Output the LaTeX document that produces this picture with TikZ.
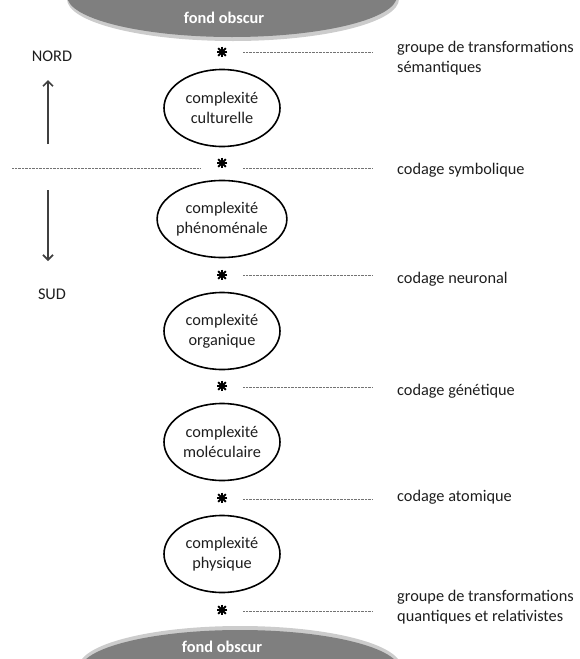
\documentclass[tikz,border=0pt]{standalone}
\usepackage{fontspec}
\setmainfont{Carlito}
\usetikzlibrary{arrows.meta,shapes.geometric}
\definecolor{bandgray}{HTML}{7F7F7F}
\definecolor{inkgray}{HTML}{1E1E1E}
\begin{document}
\begin{tikzpicture}[x=1pt,y=-1pt,
  txt/.style={font=\fontsize{16.3}{19.5}\selectfont, text=inkgray, inner sep=0pt},
  lbl/.style={txt, anchor=west, align=left},
  cplx/.style={txt, draw=black, line width=1.6pt, ellipse, minimum width=116pt,
    minimum height=77pt, inner sep=0pt, align=center},
  band/.style={fill=bandgray},
  bandtxt/.style={font=\fontsize{16.3}{19.5}\selectfont\bfseries, text=white, inner sep=0pt},
  astk/.style={circle, minimum size=13pt, inner sep=0pt,
    path picture={\foreach \a in {0,45,90,135}
      \draw[line width=2pt, black] (path picture bounding box.center) ++(\a:5.4pt) -- ++(\a+180:10.8pt);}},
  dotline/.style={draw=black!55, line width=0.8pt, dash pattern=on 0.7pt off 0.7pt},
  arr/.style={draw=black!75, line width=1.7pt, -{Straight Barb[length=5pt,width=10pt]}}]
\useasboundingbox (0,0) rectangle (579,659);

% dark background bands, top and bottom
\begin{scope}
  \clip (0,0) rectangle (579,659);
  \fill[black!20] (233,-1) ellipse [x radius=166pt, y radius=42pt];
  \fill[band] (232,-4) ellipse [x radius=165pt, y radius=41pt];
  \fill[black!20] (240,667) ellipse [x radius=161pt, y radius=41pt];
  \fill[band] (240,670) ellipse [x radius=160pt, y radius=40pt];
\end{scope}
\node[bandtxt] (top) at (224,18) {fond obscur};
\node[bandtxt] (bot) at (222,647) {fond obscur};

% orientation
\node[txt] (nord) at (52,56) {NORD};
\node[txt] (sud) at (52,294) {SUD};
\coordinate (nA) at (48,144);
\coordinate (nB) at (48,80);
\coordinate (sA) at (48,190);
\coordinate (sB) at (48,261);
\draw[arr] (nA) -- (nB);
\draw[arr] (sA) -- (sB);

% levels of complexity
\node[cplx] (c1) at (222,108) {complexité\\culturelle};
\node[cplx] (c2) at (222,219) {complexité\\phénoménale};
\node[cplx] (c3) at (222,331) {complexité\\organique};
\node[cplx] (c4) at (222,442) {complexité\\moléculaire};
\node[cplx] (c5) at (222,554) {complexité\\physique};

% junctions between levels
\node[astk] (s1) at (222,52) {};
\node[astk] (s2) at (222,163) {};
\node[astk] (s3) at (222,275) {};
\node[astk] (s4) at (222,386) {};
\node[astk] (s5) at (222,498) {};
\node[astk] (s6) at (222,610) {};

% codes
\node[lbl] (l1) at (397,58) {groupe de transformations\\sémantiques};
\node[lbl] (l2) at (397,170) {codage symbolique};
\node[lbl] (l3) at (397,279) {codage neuronal};
\node[lbl] (l4) at (397,391) {codage génétique};
\node[lbl] (l5) at (397,497) {codage atomique};
\node[lbl] (l6) at (397,607) {groupe de transformations\\quantiques et relativistes};

% dotted leaders
\coordinate (a1) at (243,52);  \coordinate (b1) at (373,52);
\coordinate (a2) at (243,168); \coordinate (b2) at (373,168);
\coordinate (a3) at (243,275); \coordinate (b3) at (373,275);
\coordinate (a4) at (243,387); \coordinate (b4) at (373,387);
\coordinate (a5) at (243,499); \coordinate (b5) at (373,499);
\coordinate (a6) at (243,611); \coordinate (b6) at (373,611);
\coordinate (w1) at (12,168);  \coordinate (w2) at (200,168);
\foreach \i in {1,...,6} \draw[dotline] (a\i) -- (b\i);
\draw[dotline] (w1) -- (w2);
\end{tikzpicture}
\end{document}
